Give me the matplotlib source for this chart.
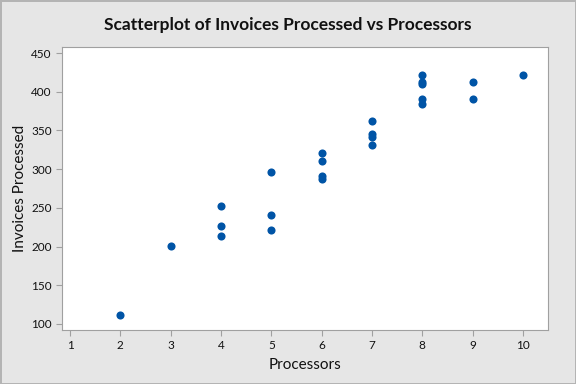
import matplotlib
matplotlib.use("Agg")
import matplotlib.pyplot as plt

# Data
processors = [2, 3, 4, 4, 4, 5, 5, 5, 6, 6, 6, 6, 7, 7, 7, 7,
              8, 8, 8, 8, 8, 9, 9, 10]
invoices = [111, 201, 252, 227, 213, 296, 241, 221, 321, 311, 291, 287,
            362, 346, 341, 331, 421, 413, 410, 391, 384, 412, 391, 421]
x_ticks = [1, 2, 3, 4, 5, 6, 7, 8, 9, 10]
y_ticks = [100, 150, 200, 250, 300, 350, 400, 450]

plt.rcParams['font.family'] = ['Lato', 'DejaVu Sans']

fig = plt.figure(figsize=(5.76, 3.84), dpi=100, facecolor='#e6e6e6',
                 edgecolor='#b4b4b4', linewidth=1)
ax = fig.add_axes([62 / 576, 1 - 330 / 384, 486 / 576, 283 / 384])
ax.set_facecolor('white')

ax.scatter(processors, invoices, s=34, color='#0054a6', zorder=3, linewidths=0)

ax.set_xlim(0.84, 10.5)
ax.set_ylim(92.2, 457.8)
ax.set_xticks(x_ticks)
ax.set_yticks(y_ticks)

for s in ax.spines.values():
    s.set_color('#a0a0a0')
ax.tick_params(colors='#a0a0a0', labelcolor='#111111', labelsize=8.5, length=4)

ax.set_xlabel('Processors', fontsize=11, color='#111111')
ax.set_ylabel('Invoices Processed', fontsize=11, color='#111111')
ax.xaxis.set_label_coords(0.5, -0.099)
ax.yaxis.set_label_coords(-0.072, 0.5)
fig.text(0.5, 1 - 25 / 384, 'Scatterplot of Invoices Processed vs Processors',
         ha='center', va='center', fontsize=12.5, fontweight='bold', color='#111111')

fig.savefig('out.png', dpi=100, facecolor=fig.get_facecolor(),
            edgecolor=fig.get_edgecolor())
